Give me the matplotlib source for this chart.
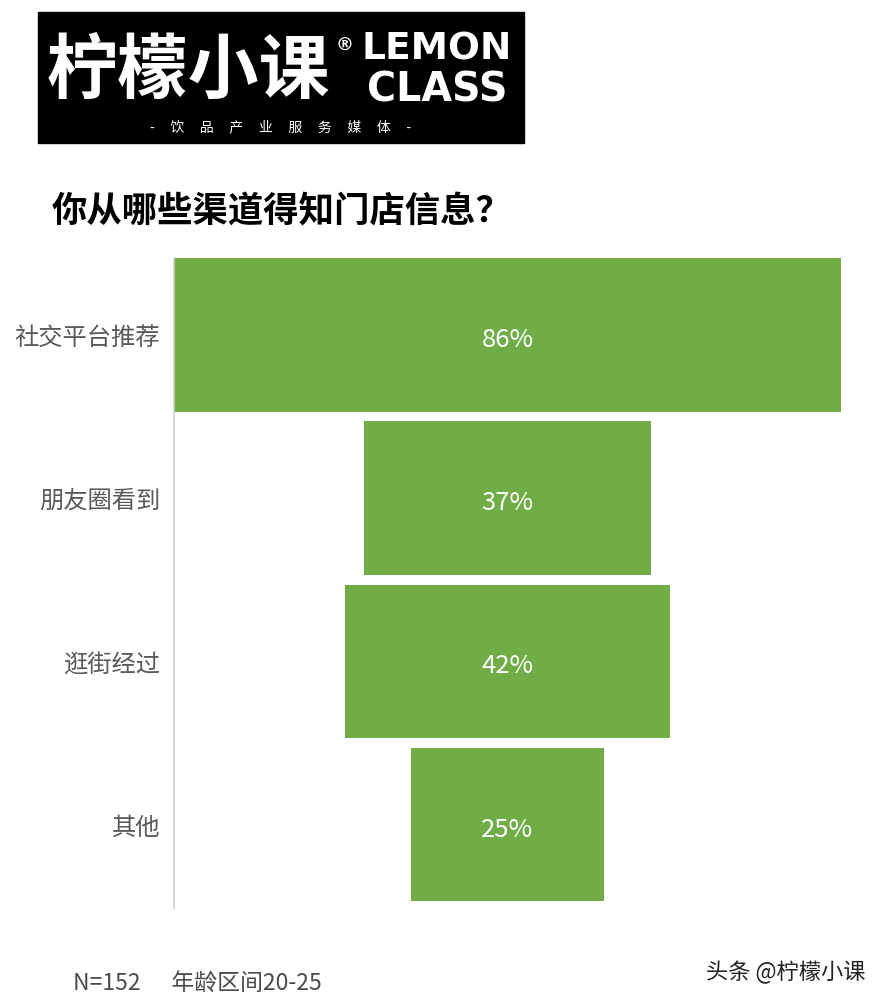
import matplotlib
matplotlib.use("Agg")
import matplotlib.pyplot as plt
from matplotlib.patches import Rectangle

plt.rcParams['font.family'] = ['Noto Sans CJK SC', 'DejaVu Sans']

categories = ["社交平台推荐", "朋友圈看到", "逛街经过", "其他"]
values = [86, 37, 42, 25]
value_labels = ["86%", "37%", "42%", "25%"]
title = "你从哪些渠道得知门店信息？"
footnote = "N=152      年龄区间20-25"
source = "头条 @柠檬小课"

W, H = 886, 1006
fig = plt.figure(figsize=(W / 100, H / 100), dpi=100)
fig.patch.set_facecolor("white")

# axes in pixel coords: x 174..841, y 258..908
ax = fig.add_axes([174 / W, (H - 908) / H, (841 - 174) / W, (908 - 258) / H])
green = "#70AD47"
ypos = list(range(len(categories)))
lefts = [-v / 2 for v in values]
ax.barh(ypos, values, left=lefts, height=0.94, color=green, edgecolor="none")
for y, lab in zip(ypos, value_labels):
    ax.text(0, y + 0.03, lab, ha="center", va="center", color="white", fontsize=18.5)
ax.set_xlim(-43, 43)
ax.set_ylim(3.51, -0.47)
ax.set_yticks(ypos)
ax.set_yticklabels(categories, fontsize=17.5, color="#595959")
ax.tick_params(axis="y", length=0, pad=10)
ax.set_xticks([])
for s in ["top", "right", "bottom"]:
    ax.spines[s].set_visible(False)
ax.spines["left"].set_color("#D0D0D0")
ax.spines["left"].set_linewidth(1.2)
ax.set_facecolor("none")

# logo
lax = fig.add_axes([0, 0, 1, 1], zorder=-1)
lax.set_xlim(0, W)
lax.set_ylim(H, 0)
lax.axis("off")
lax.add_patch(Rectangle((38, 12), 486, 131, color="black"))
fig.text(188 / W, 1 - 72 / H, "柠檬小课", color="white", fontsize=51, fontweight="bold",
         va="center", ha="center")
fig.text(344 / W, 1 - 46 / H, "®", color="white", fontsize=13, fontweight="bold", va="center", ha="center",
         family="DejaVu Sans")
fig.text(437 / W, 1 - 50 / H, "LEMON", color="white", fontsize=27, fontweight="bold", va="center", ha="center",
         family="DejaVu Sans")
fig.text(437 / W, 1 - 90 / H, "CLASS", color="white", fontsize=28.5, fontweight="bold", va="center", ha="center",
         family="DejaVu Sans")
fig.text(281 / W, 1 - 127 / H, "-     饮     品     产     业     服     务     媒     体     -", color="white",
         fontsize=10, va="center", ha="center")

# title
fig.text(52 / W, 1 - 212 / H, title, color="black", fontsize=25.5, fontweight="heavy", va="center", ha="left")

# footer
fig.text(73 / W, 1 - 984 / H, footnote, color="#4A4A4A", fontsize=16.5, va="center", ha="left")
fig.text(866 / W, 1 - 973 / H, source, color="#222222", fontsize=16, va="center", ha="right")

fig.savefig("out.png", dpi=100, facecolor="white")
